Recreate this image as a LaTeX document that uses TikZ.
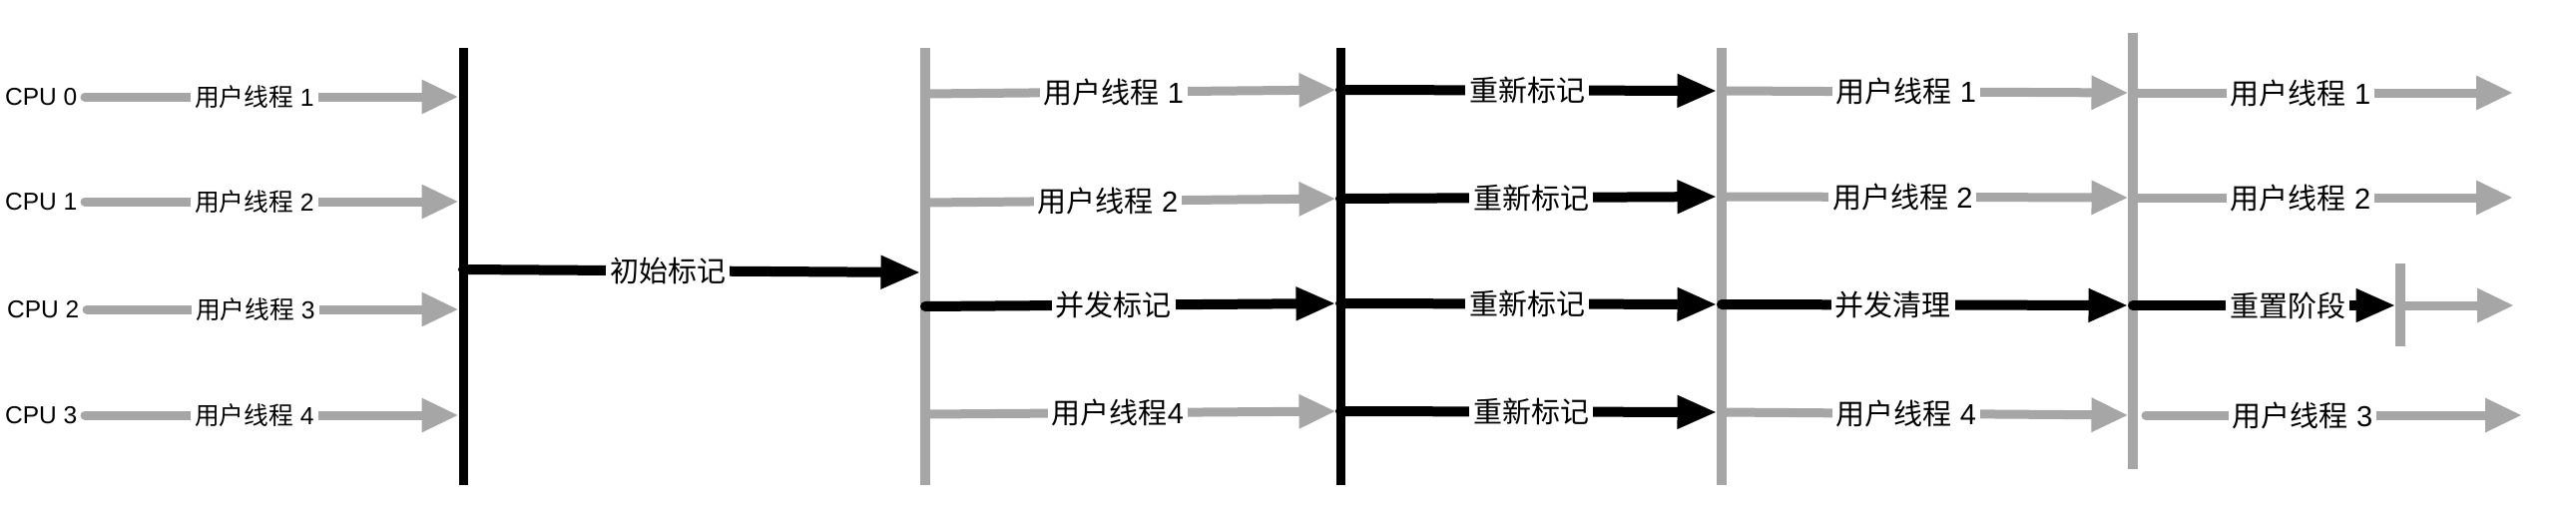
\documentclass[tikz,border=0pt]{standalone}
\usepackage{fontspec}
\setmainfont{Liberation Sans}
\newfontfamily\cjk{Noto Sans CJK SC}
\usetikzlibrary{arrows.meta}
\definecolor{lg}{RGB}{166,166,166}
\newcommand\zh[1]{{\cjk #1}}
\begin{document}
\begin{tikzpicture}[x=1pt,y=-1pt,
  bbar/.style={draw=black, line width=9pt},
  gbar/.style={draw=lg, line width=9.5pt},
  gline/.style={draw=lg, line width=9pt, line cap=round, -{Triangle[length=37pt,width=32pt]}},
  bline/.style={draw=black, line width=10pt, line cap=round, -{Triangle[length=40pt,width=31pt]}},
  tobar/.style={shorten >=4.5pt},
  lab/.style={fill=white, inner xsep=4pt, inner ysep=1pt, font=\fontsize{24.7}{26}\selectfont},
  big/.style={lab, font=\fontsize{29}{31}\selectfont},
  cpu/.style={anchor=west, inner sep=0pt, font=\fontsize{24.5}{26}\selectfont}
]
\useasboundingbox (0,0) rectangle (2581,520);

% bar coordinates
\coordinate (b1t) at (464,48);  \coordinate (b1b) at (464,486);
\coordinate (b2t) at (927,48);  \coordinate (b2b) at (927,486);
\coordinate (b3t) at (1343,48); \coordinate (b3b) at (1343,486);
\coordinate (b4t) at (1725,48); \coordinate (b4b) at (1725,486);
\coordinate (b5t) at (2137,33); \coordinate (b5b) at (2137,470);
\coordinate (b6t) at (2405,264);\coordinate (b6b) at (2405,347);

% row points on bars
\coordinate (b1r1) at (464,97);  \coordinate (b1r2) at (464,202);
\coordinate (b1r3) at (464,310); \coordinate (b1r4) at (464,416);
\coordinate (b1m) at (464,270);
\coordinate (b2m) at (927,273);
\coordinate (b2r1) at (927,94);  \coordinate (b2r2) at (927,203);
\coordinate (b2r3) at (927,307); \coordinate (b2r4) at (927,415);
\coordinate (b3r1) at (1343,90);  \coordinate (b3r2) at (1343,199);
\coordinate (b3r3) at (1343,304); \coordinate (b3r4) at (1343,412);
\coordinate (b4r1) at (1725,91);  \coordinate (b4r2) at (1725,197);
\coordinate (b4r3) at (1725,305); \coordinate (b4r4) at (1725,413);
\coordinate (b5r1) at (2137,93);  \coordinate (b5r2) at (2137,198);
\coordinate (b5r3) at (2137,306); \coordinate (b5r4) at (2137,416);
\coordinate (b6r3) at (2405,306);
\coordinate (e1) at (2518,93);  \coordinate (e2) at (2518,198);
\coordinate (e3) at (2519,306); \coordinate (e4) at (2527,416);

% bars
\draw[bbar] (b1t) -- (b1b);
\draw[gbar] (b2t) -- (b2b);
\draw[bbar] (b3t) -- (b3b);
\draw[gbar] (b4t) -- (b4b);
\draw[gbar] (b5t) -- (b5b);
\draw[gbar] (b6t) -- (b6b);

% CPU labels
\node[cpu] (cpu0) at (5,97)  {CPU 0};
\node[cpu] (cpu1) at (5,202) {CPU 1};
\node[cpu] (cpu2) at (7,310) {CPU 2};
\node[cpu] (cpu3) at (5,416) {CPU 3};

% stage 1
\draw[gline,tobar] ([xshift=7.5pt]cpu0.east) -- node[lab,pos=.448]{\zh{用户线程} 1} (b1r1);
\draw[gline,tobar] ([xshift=7.5pt]cpu1.east) -- node[lab,pos=.448]{\zh{用户线程} 2} (b1r2);
\draw[gline,tobar] ([xshift=7.5pt]cpu2.east) -- node[lab,pos=.448]{\zh{用户线程} 3} (b1r3);
\draw[gline,tobar] ([xshift=7.5pt]cpu3.east) -- node[lab,pos=.448]{\zh{用户线程} 4} (b1r4);
\draw[bline,tobar] (b1m) -- node[big,pos=.443]{\zh{初始标记}} (b2m);

% stage 2
\draw[gline,tobar] (b2r1) -- node[big,pos=.454]{\zh{用户线程} 1} (b3r1);
\draw[gline,tobar] (b2r2) -- node[big,pos=.44]{\zh{用户线程} 2} (b3r2);
\draw[bline,tobar] (b2r3) -- node[big,pos=.454]{\zh{并发标记}} (b3r3);
\draw[gline,tobar] (b2r4) -- node[big,pos=.464]{\zh{用户线程}4} (b3r4);

% stage 3
\draw[bline,tobar] (b3r1) -- node[big,pos=.49]{\zh{重新标记}} (b4r1);
\draw[bline,tobar] (b3r2) -- node[big,pos=.50]{\zh{重新标记}} (b4r2);
\draw[bline,tobar] (b3r3) -- node[big,pos=.49]{\zh{重新标记}} (b4r3);
\draw[bline,tobar] (b3r4) -- node[big,pos=.50]{\zh{重新标记}} (b4r4);

% stage 4
\draw[gline,tobar] (b4r1) -- node[big,pos=.449]{\zh{用户线程} 1} (b5r1);
\draw[gline,tobar] (b4r2) -- node[big,pos=.44]{\zh{用户线程} 2} (b5r2);
\draw[bline,tobar] (b4r3) -- node[big,pos=.417]{\zh{并发清理}} (b5r3);
\draw[gline,tobar] (b4r4) -- node[big,pos=.449]{\zh{用户线程} 4} (b5r4);

% stage 5
\draw[gline] (b5r1) -- node[big,pos=.441]{\zh{用户线程} 1} (e1);
\draw[gline] (b5r2) -- node[big,pos=.441]{\zh{用户线程} 2} (e2);
\draw[bline,tobar] (b5r3) -- node[big,pos=.58]{\zh{重置阶段}} (b6r3);
\draw[gline] (b6r3) -- (e3);
\draw[gline,shorten <=13pt] (b5r4) -- node[big,pos=.436]{\zh{用户线程} 3} (e4);
\end{tikzpicture}
\end{document}
